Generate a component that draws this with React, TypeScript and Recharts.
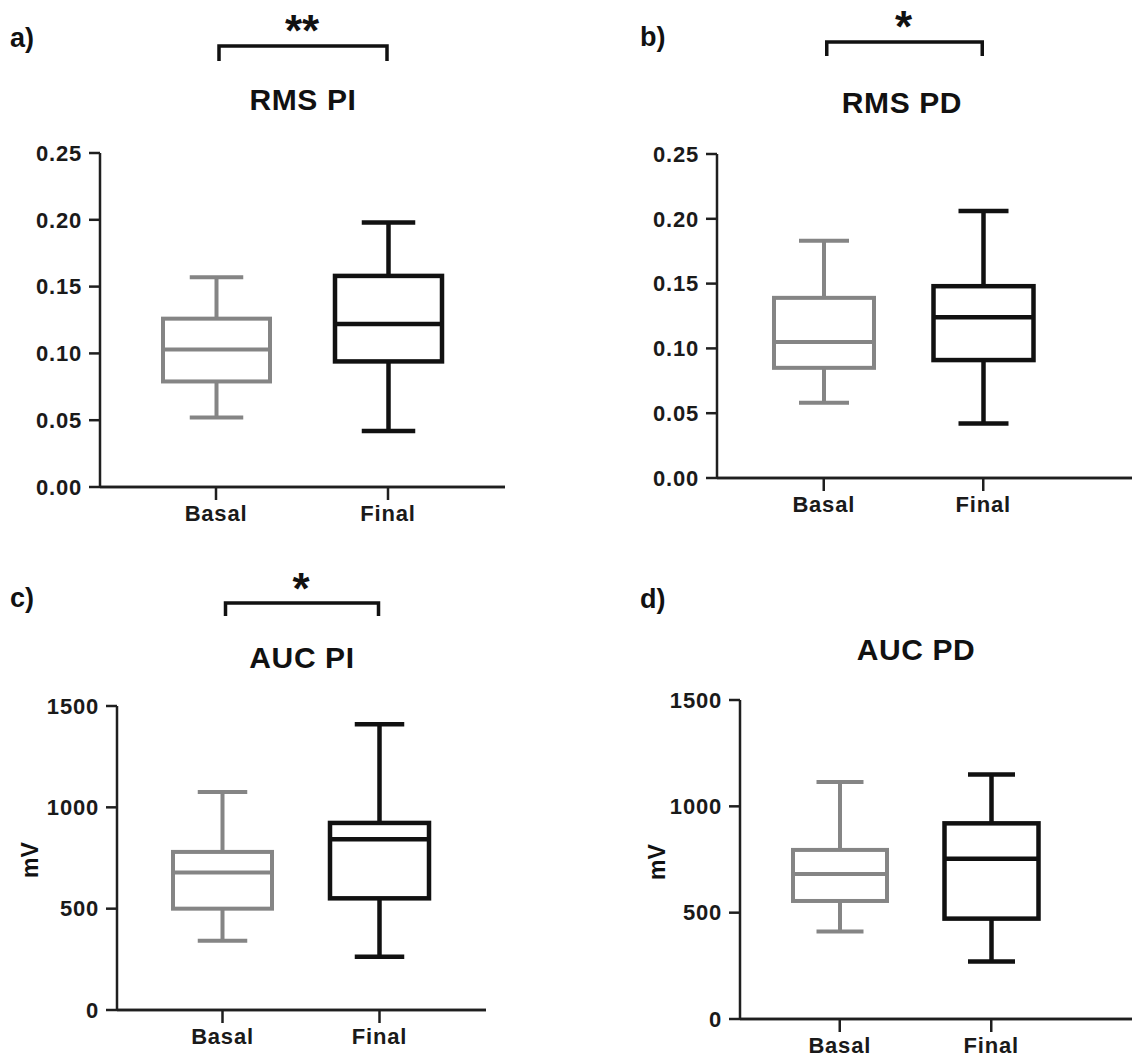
import { BarChart, Bar, XAxis, YAxis } from 'recharts';

const categories = ['Basal', 'Final'];

// five-number summaries: [min, Q1, median, Q3, max]
const rmsPiBasal = [0.052, 0.079, 0.103, 0.126, 0.157];
const rmsPiFinal = [0.042, 0.094, 0.122, 0.158, 0.198];
const rmsPdBasal = [0.058, 0.085, 0.105, 0.139, 0.183];
const rmsPdFinal = [0.042, 0.091, 0.124, 0.148, 0.206];
const aucPiBasal = [342, 500, 679, 780, 1076];
const aucPiFinal = [263, 551, 843, 923, 1410];
const aucPdBasal = [411, 555, 682, 795, 1114];
const aucPdFinal = [270, 472, 754, 920, 1150];

const rmsTicks = [0, 0.05, 0.1, 0.15, 0.2, 0.25];
const aucTicks = [0, 500, 1000, 1500];

const FONT = '"Liberation Sans", Arial, Helvetica, sans-serif';
const GREY = '#858585';
const BLACK = '#111111';
const AXIS = '#1f1f1f';

const YAXIS_W = 100;
const XAXIS_H = 50;

const toRows = (basal: number[], final: number[]) =>
  [basal, final].map((s, i) => ({ group: categories[i], range: [s[0], s[4]], stats: s }));

type Panel = {
  tag: string;
  title: string;
  stars?: string;
  unit?: string;
  rows: ReturnType<typeof toRows>;
  ticks: number[];
  fmt: (v: number) => string;
  plot: { left: number; top: number; right: number; bottom: number };
  pad: [number, number];
  box: number;
  tag_xy: [number, number];
  title_xy: [number, number];
  bracket?: { y: number; leg: number; starY: number };
  unit_xy?: [number, number];
};

const panels: Panel[] = [
  {
    tag: 'a)', title: 'RMS PI', stars: '**',
    rows: toRows(rmsPiBasal, rmsPiFinal), ticks: rmsTicks, fmt: v => v.toFixed(2),
    plot: { left: 100, top: 153, right: 505, bottom: 487 }, pad: [30, 31], box: 107,
    tag_xy: [10, 47], title_xy: [303, 110], bracket: { y: 46, leg: 15, starY: 46 },
  },
  {
    tag: 'b)', title: 'RMS PD', stars: '*',
    rows: toRows(rmsPdBasal, rmsPdFinal), ticks: rmsTicks, fmt: v => v.toFixed(2),
    plot: { left: 717, top: 154, right: 1132, bottom: 478 }, pad: [27, 69], box: 100,
    tag_xy: [640, 46], title_xy: [902, 113], bracket: { y: 42, leg: 14, starY: 42 },
  },
  {
    tag: 'c)', title: 'AUC PI', stars: '*', unit: 'mV',
    rows: toRows(aucPiBasal, aucPiFinal), ticks: aucTicks, fmt: v => String(v),
    plot: { left: 117, top: 706, right: 486, bottom: 1010 }, pad: [27, 28], box: 99,
    tag_xy: [10, 607], title_xy: [302, 668], bracket: { y: 603, leg: 13, starY: 604 },
    unit_xy: [38, 860],
  },
  {
    tag: 'd)', title: 'AUC PD', unit: 'mV',
    rows: toRows(aucPdBasal, aucPdFinal), ticks: aucTicks, fmt: v => String(v),
    plot: { left: 740, top: 700, right: 1132, bottom: 1019 }, pad: [24, 65], box: 94,
    tag_xy: [640, 608], title_xy: [916, 660], unit_xy: [665, 862],
  },
];

// category centre on the band scale, same padding as the XAxis
const groupX = (p: Panel, i: number) => {
  const band = (p.plot.right - p.plot.left - p.pad[0] - p.pad[1]) / categories.length;
  return p.plot.left + p.pad[0] + band * (i + 0.5);
};

// draws a whisker box inside the [min, max] range bar
function BoxShape(props: any) {
  const { x, y, width, height, payload, index } = props;
  const [min, q1, med, q3, max] = payload.stats as number[];
  const top = Math.min(y, y + height);
  const bottom = Math.max(y, y + height);
  const py = (v: number) => bottom - ((v - min) / (max - min)) * (bottom - top);
  const color = index === 0 ? GREY : BLACK;
  const sw = index === 0 ? 4 : 4.5;
  const cx = x + width / 2;
  const cap = width / 4;
  return (
    <g stroke={color} strokeWidth={sw} fill="none">
      <line x1={cx} x2={cx} y1={py(max)} y2={py(q3)} />
      <line x1={cx} x2={cx} y1={py(q1)} y2={py(min)} />
      <line x1={cx - cap} x2={cx + cap} y1={py(max)} y2={py(max)} />
      <line x1={cx - cap} x2={cx + cap} y1={py(min)} y2={py(min)} />
      <rect x={x} y={py(q3)} width={width} height={py(q1) - py(q3)} />
      <line x1={x} x2={x + width} y1={py(med)} y2={py(med)} />
    </g>
  );
}

function PanelChart({ p }: { p: Panel }) {
  const mTop = 20;
  const mRight = 2;
  const mBottom = 10;
  const w = p.plot.right - p.plot.left + YAXIS_W + mRight;
  const h = p.plot.bottom - p.plot.top + mTop + XAXIS_H + mBottom;
  const tick = { fill: '#1a1a1a', fontSize: 22, fontWeight: 700, fontFamily: FONT, letterSpacing: 0.8 };
  return (
    <div style={{ position: 'absolute', left: p.plot.left - YAXIS_W, top: p.plot.top - mTop, width: w, height: h }}>
      <BarChart
        width={w}
        height={h}
        data={p.rows}
        margin={{ top: mTop, right: mRight, bottom: mBottom, left: 0 }}
        barSize={p.box}
      >
        <XAxis
          dataKey="group"
          height={XAXIS_H}
          padding={{ left: p.pad[0], right: p.pad[1] }}
          tick={tick}
          tickSize={13}
          tickMargin={5}
          axisLine={{ stroke: AXIS, strokeWidth: 2.5 }}
          tickLine={{ stroke: AXIS, strokeWidth: 2.5 }}
        />
        <YAxis
          type="number"
          width={YAXIS_W}
          domain={[p.ticks[0], p.ticks[p.ticks.length - 1]]}
          ticks={p.ticks}
          interval={0}
          tickFormatter={p.fmt}
          tick={tick}
          tickSize={11}
          tickMargin={7}
          axisLine={{ stroke: AXIS, strokeWidth: 2.5 }}
          tickLine={{ stroke: AXIS, strokeWidth: 2.5 }}
        />
        <Bar dataKey="range" fill="none" shape={BoxShape} isAnimationActive={false} />
      </BarChart>
    </div>
  );
}

function Annotations() {
  return (
    <svg width={1132} height={1061} style={{ position: 'absolute', left: 0, top: 0, pointerEvents: 'none' }}>
      {panels.map(p => {
        const x0 = groupX(p, 0);
        const x1 = groupX(p, 1);
        return (
          <g key={p.tag} fontFamily={FONT} fontWeight={700} fill="#111">
            {/* baseline carried through to the panel's right edge */}
            <line x1={p.plot.left} x2={p.plot.right} y1={p.plot.bottom} y2={p.plot.bottom} stroke={AXIS} strokeWidth={2.5} />
            <text x={p.tag_xy[0]} y={p.tag_xy[1]} fontSize={27}>{p.tag}</text>
            <text x={p.title_xy[0]} y={p.title_xy[1]} fontSize={30} letterSpacing={0.6} textAnchor="middle">
              {p.title}
            </text>
            {p.bracket && (
              <>
                <path
                  d={`M${x0 + 3},${p.bracket.y + p.bracket.leg} V${p.bracket.y} H${x1 - 1} V${p.bracket.y + p.bracket.leg}`}
                  stroke="#111" strokeWidth={3.5} fill="none"
                />
                <text x={(x0 + x1) / 2} y={p.bracket.starY} fontSize={44} textAnchor="middle">
                  {p.stars}
                </text>
              </>
            )}
            {p.unit && p.unit_xy && (
              <text
                x={p.unit_xy[0]} y={p.unit_xy[1]} fontSize={23} textAnchor="middle"
                transform={`rotate(-90 ${p.unit_xy[0]} ${p.unit_xy[1]})`}
              >
                {p.unit}
              </text>
            )}
          </g>
        );
      })}
    </svg>
  );
}

export default function App() {
  return (
    <div style={{ position: 'absolute', left: 0, top: 0, width: 1132, height: 1061, overflow: 'hidden', background: '#fff' }}>
      {panels.map(p => <PanelChart key={p.tag} p={p} />)}
      <Annotations />
    </div>
  );
}
